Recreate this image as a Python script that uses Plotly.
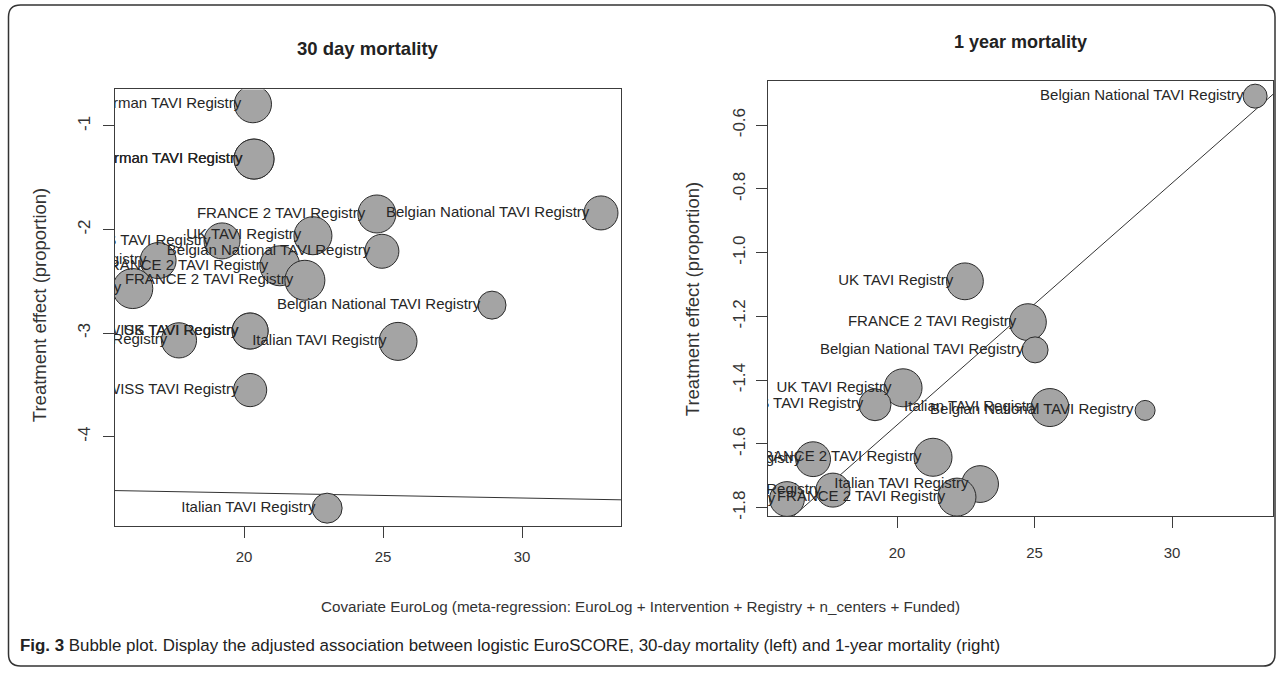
import plotly.graph_objects as go

# ---------------- data ----------------
# 30-day mortality panel
euro30 = [20.32, 20.36, 20.36, 24.78, 32.84, 22.48, 19.21, 24.96, 16.91, 21.29, 22.19, 16.00,
          28.92, 25.54, 20.22, 20.22, 17.66, 20.22, 22.99]
effect30 = [-0.79, -1.32, -1.32, -1.85, -1.84, -2.06, -2.11, -2.21, -2.30, -2.35, -2.49, -2.57,
            -2.73, -3.08, -2.98, -2.98, -3.07, -3.55, -4.69]
weight30 = [0.93, 1.0, 1.0, 0.95, 0.85, 0.95, 0.9, 0.85, 0.9, 1.0, 1.0, 1.0,
            0.7, 0.95, 0.9, 0.9, 0.88, 0.83, 0.75]
labels30 = ["German TAVI Registry", "German TAVI Registry", "German TAVI Registry",
            "FRANCE 2 TAVI Registry", "Belgian National TAVI Registry", "UK TAVI Registry",
            "SWISS TAVI Registry", "Belgian National TAVI Registry", "UK TAVI Registry",
            "FRANCE 2 TAVI Registry", "FRANCE 2 TAVI Registry", "Italian TAVI Registry",
            "Belgian National TAVI Registry", "Italian TAVI Registry", "UK TAVI Registry",
            "SWISS TAVI Registry", "Italian TAVI Registry", "SWISS TAVI Registry",
            "Italian TAVI Registry"]
reg30 = {"intercept": -4.445, "slope": -0.0049}

# 1-year mortality panel
euro1y = [33.02, 22.47, 24.76, 25.02, 20.22, 19.20, 25.56, 29.02, 21.31, 16.95, 16.00, 17.67,
          23.02, 22.18]
effect1y = [-0.509, -1.09, -1.218, -1.305, -1.424, -1.477, -1.486, -1.495, -1.642, -1.648,
            -1.773, -1.745, -1.726, -1.767]
weight1y = [0.6, 0.92, 0.92, 0.65, 0.95, 0.8, 0.95, 0.5, 0.95, 0.87, 0.87, 0.85, 0.92, 0.95]
labels1y = ["Belgian National TAVI Registry", "UK TAVI Registry", "FRANCE 2 TAVI Registry",
            "Belgian National TAVI Registry", "UK TAVI Registry", "SWISS TAVI Registry",
            "Italian TAVI Registry", "Belgian National TAVI Registry", "FRANCE 2 TAVI Registry",
            "UK TAVI Registry", "Italian TAVI Registry", "German TAVI Registry",
            "Italian TAVI Registry", "FRANCE 2 TAVI Registry"]
reg1y = {"intercept": -3.0588, "slope": 0.0759}

xticks = [20, 25, 30]
xtick_labels = ["20", "25", "30"]
yticks30 = [-1, -2, -3, -4]
ytick_labels30 = ["-1", "-2", "-3", "-4"]
yticks1y = [-0.6, -0.8, -1.0, -1.2, -1.4, -1.6, -1.8]
ytick_labels1y = ["-0.6", "-0.8", "-1.0", "-1.2", "-1.4", "-1.6", "-1.8"]

titles = ["30 day mortality", "1 year mortality"]
ytitle = "Treatment effect (proportion)"
xtitle = "Covariate EuroLog (meta-regression: EuroLog + Intervention + Registry + n_centers + Funded)"
caption_bold = "Fig. 3"
caption_rest = (" Bubble plot. Display the adjusted association between logistic EuroSCORE, "
                "30-day mortality (left) and 1-year mortality (right)")

# ---------------- layout helpers ----------------
W, H = 1281, 676
FONT = "Liberation Sans, Arial, Helvetica, sans-serif"
MAXD = 40  # px diameter of the heaviest study


def px(x):
    return x / W


def py(y):
    return 1 - y / H


xr30 = [15.36, 33.56]
yr30 = [-4.861, -0.648]
xr1y = [15.31, 33.67]
yr1y = [-1.826, -0.46]

fig = go.Figure()


def add_panel(xs, ys, ws, labs, reg, xr, xa, ya):
    # regression line
    lx = list(xr)
    ly = [reg["intercept"] + reg["slope"] * v for v in lx]
    fig.add_trace(go.Scatter(x=lx, y=ly, mode="lines", xaxis=xa, yaxis=ya,
                             line=dict(color="#333333", width=1), hoverinfo="skip"))
    # bubbles
    fig.add_trace(go.Scatter(x=xs, y=ys, mode="markers", xaxis=xa, yaxis=ya,
                             marker=dict(size=[w * MAXD for w in ws], color="#a4a4a4",
                                         line=dict(color="#2a2a2a", width=1), opacity=1),
                             cliponaxis=True))
    # labels (placed just left of bubble centre)
    fig.add_trace(go.Scatter(x=xs, y=ys, mode="markers+text", xaxis=xa, yaxis=ya,
                             text=labs, textposition="middle left",
                             textfont=dict(family=FONT, size=15, color="#262626"),
                             marker=dict(size=17, color="rgba(0,0,0,0)"),
                             cliponaxis=True, hoverinfo="skip"))


add_panel(euro30, effect30, weight30, labels30, reg30, xr30, "x", "y")
add_panel(euro1y, effect1y, weight1y, labels1y, reg1y, xr1y, "x2", "y2")

axis_common = dict(showline=True, mirror=True, linecolor="#3c3c3c", linewidth=1.2,
                   ticks="outside", ticklen=11, tickcolor="#3c3c3c", tickwidth=1.2,
                   showgrid=False, zeroline=False)

fig.update_layout(
    width=W, height=H, margin=dict(l=0, r=0, t=0, b=0),
    paper_bgcolor="white", plot_bgcolor="white", showlegend=False,
    font=dict(family=FONT, color="#333333"),
    xaxis=dict(domain=[px(115), px(621)], range=xr30, tickvals=xticks, ticktext=xtick_labels,
               tickfont=dict(size=15, color="#333333"), anchor="y",
               ticklabelstandoff=6, **axis_common),
    yaxis=dict(domain=[py(529), py(90)], range=yr30, tickvals=yticks30, ticktext=ytick_labels30,
               tickangle=-90, tickfont=dict(size=17, color="#333333"), anchor="x",
               ticklabelstandoff=6, **axis_common),
    xaxis2=dict(domain=[px(768), px(1273)], range=xr1y, tickvals=xticks, ticktext=xtick_labels,
                tickfont=dict(size=15, color="#333333"), anchor="y2",
                ticklabelstandoff=12, **axis_common),
    yaxis2=dict(domain=[py(519), py(81)], range=yr1y, tickvals=yticks1y, ticktext=ytick_labels1y,
                tickangle=-90, tickfont=dict(size=17, color="#333333"), anchor="x2",
                ticklabelstandoff=4, **axis_common),
)

ann = []
ann.append(dict(x=px(368), y=py(49), text="<b>" + titles[0] + "</b>", showarrow=False,
                xref="paper", yref="paper", xanchor="center", yanchor="middle",
                font=dict(size=18.5, color="#222222", family=FONT)))
ann.append(dict(x=px(1020), y=py(42), text="<b>" + titles[1] + "</b>", showarrow=False,
                xref="paper", yref="paper", xanchor="center", yanchor="middle",
                font=dict(size=18, color="#222222", family=FONT)))
for xx, yy in [(39, 307), (692, 301)]:
    ann.append(dict(x=px(xx), y=py(yy), text=ytitle, textangle=-90, showarrow=False,
                    xref="paper", yref="paper", xanchor="center", yanchor="middle",
                    font=dict(size=18.5, color="#333333", family=FONT)))
ann.append(dict(x=px(640), y=py(610), text=xtitle, showarrow=False,
                xref="paper", yref="paper", xanchor="center", yanchor="middle",
                font=dict(size=15.2, color="#333333", family=FONT)))
ann.append(dict(x=px(18), y=py(649), text="<b>" + caption_bold + "</b>" + caption_rest,
                showarrow=False, xref="paper", yref="paper", xanchor="left", yanchor="middle",
                font=dict(size=16.9, color="#222222", family=FONT)))
fig.update_layout(annotations=ann)

# rounded outer frame
L, T, R, B, rad = 8.5, 5, 1275, 670, 12
path = (f"M {px(L)},{py(T + rad)} Q {px(L)},{py(T)} {px(L + rad)},{py(T)} "
        f"L {px(R - rad)},{py(T)} Q {px(R)},{py(T)} {px(R)},{py(T + rad)} "
        f"L {px(R)},{py(B - rad)} Q {px(R)},{py(B)} {px(R - rad)},{py(B)} "
        f"L {px(L + rad)},{py(B)} Q {px(L)},{py(B)} {px(L)},{py(B - rad)} Z")
fig.add_shape(type="path", path=path, xref="paper", yref="paper",
              line=dict(color="#333333", width=1.5), layer="above")

fig.write_html("out.html", config={"displayModeBar": False},
               post_script="document.body.style.margin='0px';document.body.style.overflow='hidden';")
